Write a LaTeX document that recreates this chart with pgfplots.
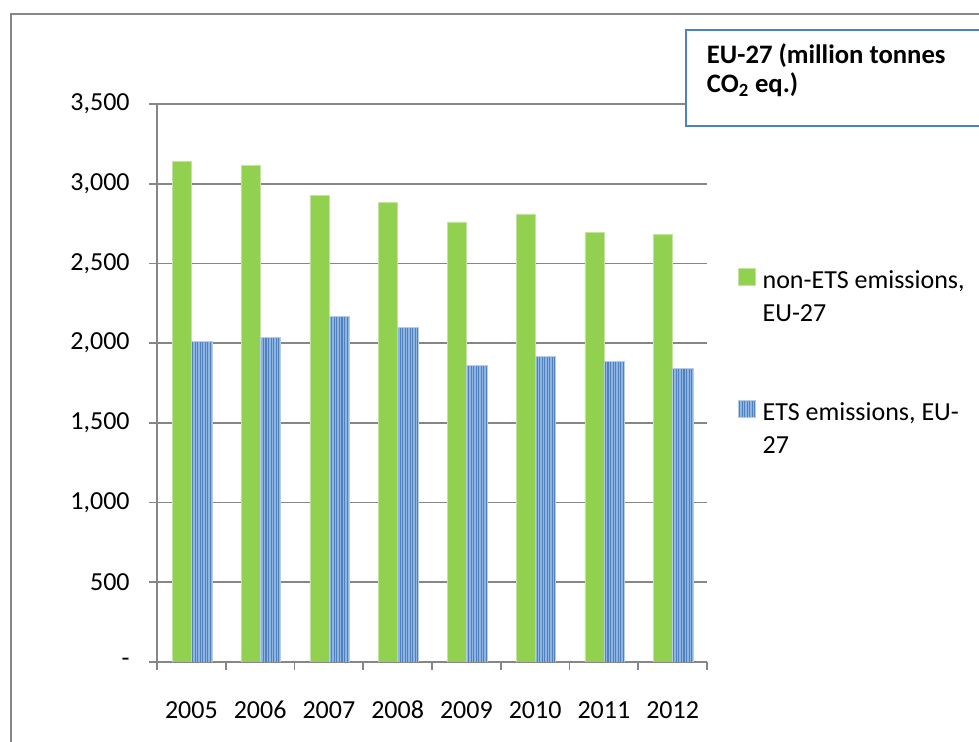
\documentclass[border=0pt]{standalone}
\usepackage{pgfplots}
\pgfplotsset{compat=1.18}
\usepackage{fontspec}
\setmainfont{Carlito}
\usetikzlibrary{patterns.meta}
\definecolor{gridgray}{HTML}{868686}
\definecolor{barGreen}{HTML}{92D050}
\definecolor{edgeGreen}{HTML}{C4E3A0}
\definecolor{barBlue}{HTML}{8DB4E2}
\definecolor{stripeBlue}{HTML}{4F81BD}
\definecolor{edgeBlue}{HTML}{B8CCE4}
\definecolor{boxBlue}{HTML}{4F81BD}
\begin{document}
\begin{tikzpicture}
\useasboundingbox (0,0) rectangle (734.25pt,556.5pt);
\draw[gridgray, line width=1.5pt] (8.25pt,-20pt) rectangle (760pt,546pt);
\begin{axis}[
  at={(117.75pt,60pt)}, anchor=south west,
  scale only axis, width=412.5pt, height=418.5pt,
  xmin=-0.5, xmax=7.5, ymin=0, ymax=3500,
  axis lines*=left,
  axis line style={gridgray, line width=1.2pt},
  xtick={-0.5,0.5,1.5,2.5,3.5,4.5,5.5,6.5,7.5},
  xticklabels={2005,2006,2007,2008,2009,2010,2011,2012},
  x tick label as interval,
  ytick={0,500,1000,1500,2000,2500,3000,3500},
  yticklabels={{\raisebox{-3pt}{-}\hspace{17pt}},500,{1,000},{1,500},{2,000},{2,500},{3,000},{3,500}},
  ymajorgrids, grid style={gridgray, line width=1.2pt},
  tick align=outside, major tick length=6pt,
  tick style={gridgray, line width=1.2pt},
  ticklabel style={font=\fontsize{19.5pt}{23pt}\selectfont, text=black},
  xticklabel style={anchor=north, text height=13pt, text depth=0pt, yshift=-20pt},
  yticklabel style={xshift=-11pt},
  /pgf/number format/assume math mode=true,
  legend style={at={(axis description cs:1.0564,0.7061)}, anchor=north west,
    draw=none, fill=none, inner sep=0pt, row sep=4.75pt, column sep=5pt,
    font=\fontsize{19.5pt}{23pt}\selectfont,
    nodes={inner sep=0pt, text height=15pt, text depth=5pt}},
  legend cell align=left,
  legend image code/.code={\fill[#1] (0pt,-3pt) rectangle (12.75pt,9.75pt);},
]
\addplot[ybar, bar width=14.25pt, bar shift=-7.1pt, fill=barGreen, draw=edgeGreen, line width=0.5pt]
  coordinates {(0,3140) (1,3115) (2,2929) (3,2883) (4,2760) (5,2810) (6,2695) (7,2680)};
\addlegendentry{non-ETS emissions,}
\addlegendimage{empty legend}
\addlegendentry{EU-27}
\addlegendimage{empty legend}
\addlegendentry{\mbox{}}
\addlegendimage{empty legend}
\addlegendentry{\mbox{}}
\addplot[ybar, bar width=15.4pt, bar shift=7.7pt, fill=barBlue, draw=edgeBlue, line width=0.5pt,
  postaction={pattern={Lines[angle=90,distance=1.9pt,line width=0.8pt]}, pattern color=stripeBlue}]
  coordinates {(0,2011) (1,2036) (2,2166) (3,2101) (4,1861) (5,1917) (6,1884) (7,1844)};
\addlegendentry{ETS emissions, EU-}
\addlegendimage{empty legend}
\addlegendentry{27}
\end{axis}
\draw[boxBlue, line width=1.5pt, fill=white] (514.5pt,462pt) rectangle (760pt,534pt);
\node[anchor=base west, inner sep=0pt, font=\bfseries\fontsize{20pt}{23pt}\selectfont] at (530pt,509pt) {EU-27 (million tonnes};
\node[anchor=base west, inner sep=0pt, font=\bfseries\fontsize{20pt}{23pt}\selectfont] at (530pt,487pt) {CO\textsubscript{2} eq.)};
\end{tikzpicture}
\end{document}
